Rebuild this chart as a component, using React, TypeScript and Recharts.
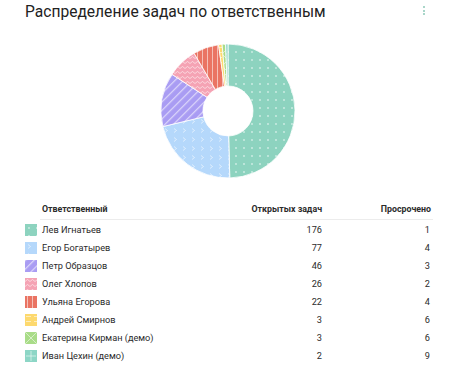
import React from "react";
import { PieChart, Pie, Cell } from "recharts";

const names = [
  "Лев Игнатьев",
  "Егор Богатырев",
  "Петр Образцов",
  "Олег Хлопов",
  "Ульяна Егорова",
  "Андрей Смирнов",
  "Екатерина Кирман (демо)",
  "Иван Цехин (демо)",
];
const openTasks = [176, 77, 46, 26, 22, 3, 3, 2];
const overdue = [1, 4, 3, 2, 4, 6, 6, 9];
const colors = ["#8dd3bf", "#b5d8fb", "#a99cf3", "#f5a3b4", "#ea7463", "#fdd96e", "#a9dc88", "#8dd6c6"];
const headers = ["Ответственный", "Открытых задач", "Просрочено"];
const title = "Распределение задач по ответственным";

const data = names.map((n, i) => ({ name: n, value: openTasks[i], overdue: overdue[i] }));

const W = "rgba(255,255,255,0.6)";

function PatternDefs({ prefix }: { prefix: string }) {
  return (
    <defs>
      <pattern id={`${prefix}0`} width="8" height="8" patternUnits="userSpaceOnUse">
        <rect width="8" height="8" fill={colors[0]} />
        <circle cx="4" cy="4" r="0.9" fill={W} />
      </pattern>
      <pattern id={`${prefix}1`} width="9" height="9" patternUnits="userSpaceOnUse">
        <rect width="9" height="9" fill={colors[1]} />
        <path d="M3 2.5 L5.5 4.5 L3 6.5" stroke={W} strokeWidth="0.9" fill="none" />
      </pattern>
      <pattern id={`${prefix}2`} width="6" height="6" patternUnits="userSpaceOnUse" patternTransform="rotate(45)">
        <rect width="6" height="6" fill={colors[2]} />
        <rect x="0" y="0" width="1.2" height="6" fill={W} />
      </pattern>
      <pattern id={`${prefix}3`} width="5" height="5" patternUnits="userSpaceOnUse">
        <rect width="5" height="5" fill={colors[3]} />
        <path d="M0 3.5 L2.5 1.5 L5 3.5" stroke={W} strokeWidth="0.9" fill="none" />
      </pattern>
      <pattern id={`${prefix}4`} width="5" height="8" patternUnits="userSpaceOnUse">
        <rect width="5" height="8" fill={colors[4]} />
        <rect x="2" y="0" width="0.9" height="8" fill={W} />
      </pattern>
      <pattern id={`${prefix}5`} width="8" height="5" patternUnits="userSpaceOnUse">
        <rect width="8" height="5" fill={colors[5]} />
        <rect x="1" y="2" width="5" height="0.9" fill={W} />
      </pattern>
      <pattern id={`${prefix}6`} width="12" height="12" patternUnits="userSpaceOnUse">
        <rect width="12" height="12" fill={colors[6]} />
        <path d="M0 0 L12 12 M12 0 L0 12" stroke={W} strokeWidth="0.9" />
      </pattern>
      <pattern id={`${prefix}7`} width="12" height="12" patternUnits="userSpaceOnUse">
        <rect width="12" height="12" fill={colors[7]} />
        <path d="M6 1 L6 11 M1 6 L11 6" stroke={W} strokeWidth="0.9" />
      </pattern>
    </defs>
  );
}

function Swatch({ i }: { i: number }) {
  return (
    <svg width={12} height={12} style={{ position: "absolute", left: 25, top: 0, display: "block" }}>
      <PatternDefs prefix={`s${i}_`} />
      <rect width={12} height={12} fill={`url(#s${i}_${i})`} />
    </svg>
  );
}

export default function App() {
  const font = "Roboto, 'Noto Sans', sans-serif";
  const rowTop0 = 221;
  const rowFs = 9.2;
  const headFs = 8.8;
  return (
    <div style={{ position: "absolute", left: 0, top: 0, width: 456, height: 372, background: "#fff", fontFamily: font, color: "#2b2b2b", overflow: "hidden" }}>
      <div style={{ position: "absolute", left: 25, top: 0, fontSize: 15.6, lineHeight: "24px", whiteSpace: "nowrap", color: "#222" }}>{title}</div>
      {[7, 10.5, 14].map((y) => (
        <div key={y} style={{ position: "absolute", left: 423, top: y - 1, width: 2, height: 2, background: "#a9d6c9" }} />
      ))}
      <div style={{ position: "absolute", left: 0, top: 0 }}>
        <PieChart width={456} height={190}>
          <PatternDefs prefix="p" />
          <Pie
            data={data}
            dataKey="value"
            nameKey="name"
            cx={223}
            cy={106}
            innerRadius={25}
            outerRadius={67}
            startAngle={90}
            endAngle={-270}
            stroke="#ffffff"
            strokeWidth={0.8}
            isAnimationActive={false}
          >
            {data.map((d, i) => (
              <Cell key={d.name} fill={`url(#p${i})`} />
            ))}
          </Pie>
        </PieChart>
      </div>
      <div style={{ position: "absolute", left: 42, top: 202, fontSize: headFs, fontWeight: 700, lineHeight: "14px", whiteSpace: "nowrap" }}>{headers[0]}</div>
      <div style={{ position: "absolute", right: 456 - 322, top: 202, fontSize: headFs, fontWeight: 700, lineHeight: "14px", whiteSpace: "nowrap" }}>{headers[1]}</div>
      <div style={{ position: "absolute", right: 456 - 431, top: 202, fontSize: headFs, fontWeight: 700, lineHeight: "14px", whiteSpace: "nowrap" }}>{headers[2]}</div>
      <div style={{ position: "absolute", left: 40, top: 219, width: 393, height: 1, background: "#ececec" }} />
      {data.map((d, i) => (
        <div key={d.name} style={{ position: "absolute", left: 0, top: rowTop0 + i * 18 + 2.5, width: 456, height: 12 }}>
          <Swatch i={i} />
          <div style={{ position: "absolute", left: 42, top: -1, fontSize: rowFs, lineHeight: "14px", whiteSpace: "nowrap" }}>{d.name}</div>
          <div style={{ position: "absolute", right: 456 - 322, top: -1, fontSize: rowFs, lineHeight: "14px", whiteSpace: "nowrap" }}>{d.value}</div>
          <div style={{ position: "absolute", right: 456 - 430, top: -1, fontSize: rowFs, lineHeight: "14px", whiteSpace: "nowrap" }}>{d.overdue}</div>
        </div>
      ))}
    </div>
  );
}
